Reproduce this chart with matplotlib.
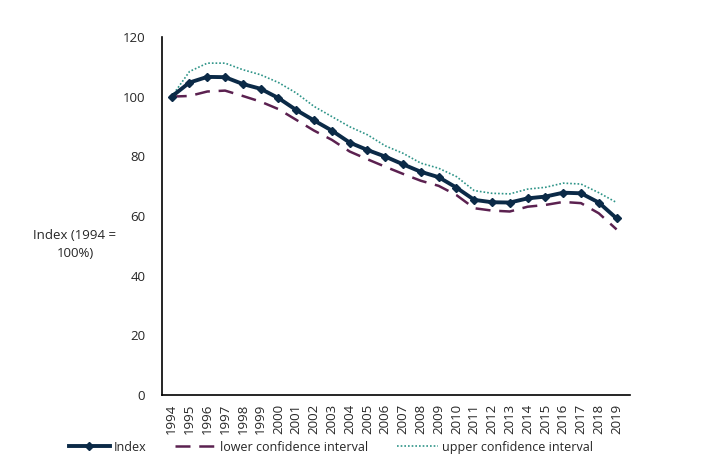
import matplotlib
matplotlib.use("Agg")
import matplotlib.pyplot as plt

plt.rcParams['font.family'] = ['Open Sans', 'DejaVu Sans']

years = [str(y) for y in range(1994, 2020)]
index_vals = [100, 104.7, 106.6, 106.5, 104.2, 102.6, 99.5, 95.5, 92.0, 88.6,
              84.6, 82.1, 79.9, 77.3, 74.8, 73.0, 69.5, 65.4, 64.6, 64.5,
              65.9, 66.5, 67.8, 67.6, 64.5, 59.2]
lower_ci = [100, 100.2, 101.7, 102.0, 100.2, 98.3, 95.8, 92.2, 88.6, 85.5,
            81.6, 79.0, 76.5, 74.1, 71.8, 70.1, 67.0, 62.6, 61.8, 61.5,
            63.1, 63.7, 64.7, 64.3, 60.9, 55.5]
upper_ci = [100, 108.4, 111.2, 111.2, 109.0, 107.3, 104.7, 101.2, 96.7, 93.3,
            89.9, 87.2, 83.5, 81.0, 77.7, 76.0, 73.2, 68.5, 67.6, 67.4,
            69.0, 69.6, 71.0, 70.7, 67.8, 64.5]

txt = '#262626'

fig = plt.figure(figsize=(7.07, 4.61), dpi=100)
ax = fig.add_axes([0.229, 0.143, 0.662, 0.777])

x = range(len(years))
ax.plot(x, index_vals, color='#0b2a47', lw=2.8, marker='D', markersize=4.5,
        label='Index', zorder=3)
ax.plot(x, lower_ci, color='#5b2150', lw=1.8, dashes=(6, 3.5),
        label='lower confidence interval', zorder=2)
ax.plot(x, upper_ci, color='#2e9488', lw=1.2, linestyle=(0, (1, 1.2)),
        label='upper confidence interval', zorder=2)

ax.set_xlim(-0.55, 25.75)
ax.set_ylim(0, 120)
ax.set_yticks(range(0, 121, 20))
ax.set_xticks(list(x))
ax.set_xticklabels(years, rotation=90, fontsize=9.5, color=txt)
ax.tick_params(axis='y', length=0, labelsize=9.5, labelcolor=txt, pad=12)
ax.tick_params(axis='x', length=0, pad=6)

for s in ['top', 'right']:
    ax.spines[s].set_visible(False)
for s in ['left', 'bottom']:
    ax.spines[s].set_color('#000000')
    ax.spines[s].set_linewidth(1.2)

fig.text(0.106, 0.47, 'Index (1994 =\n100%)', ha='center', va='center',
         fontsize=9.5, color=txt, linespacing=1.5)

fig.legend(loc='center', bbox_to_anchor=(0.468, 0.03), ncol=3, frameon=False,
           fontsize=9, handlelength=3.3, columnspacing=2.3, handletextpad=0.3,
           labelcolor=txt)

fig.savefig('out.png', dpi=100)
